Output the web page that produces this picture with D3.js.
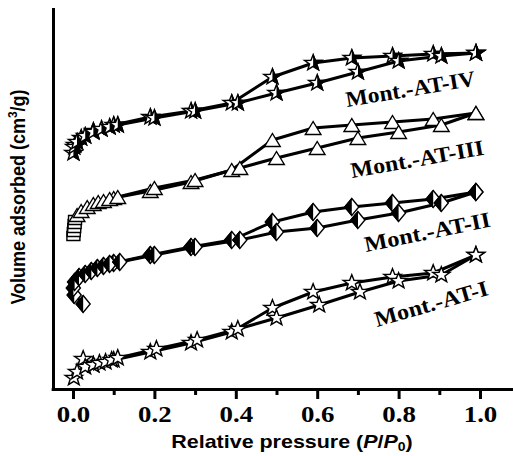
<!DOCTYPE html>
<html>
<head>
<meta charset="utf-8">
<script src="https://cdn.jsdelivr.net/npm/d3@7/dist/d3.min.js"></script>
<style>
  body { margin: 0; background: #fff; }
  svg { display: block; }
</style>
</head>
<body>
<svg></svg>
<script>
const width = 513;
const height = 456;

// x axis ticks (P/P0)
const majorTicks = [0, 0.2, 0.4, 0.6, 0.8, 1.0];
const minorTicks = [0.1, 0.3, 0.5, 0.7, 0.9];

const seriesNames = ['Mont.-AT-I', 'Mont.-AT-II', 'Mont.-AT-III', 'Mont.-AT-IV'];

// [P/P0, volume adsorbed] - curves are stacked with an offset, no y scale shown
const adsI = [[0.002, 11], [0.01, 17], [0.03, 22], [0.05, 24], [0.065, 26], [0.08, 27], [0.095, 29], [0.11, 31],
  [0.205, 40], [0.305, 49], [0.405, 60], [0.5, 71], [0.605, 84], [0.705, 97], [0.8, 108], [0.905, 114], [0.99, 134]];
const desI = [[0.99, 134], [0.885, 116], [0.785, 112], [0.685, 106], [0.59, 97], [0.49, 81], [0.39, 57],
  [0.29, 46], [0.19, 37], [0.1, 29], [0.05, 24], [0.025, 30]];

const adsII = [[0.025, 85], [0.003, 94], [0.001, 101], [0.004, 107], [0.015, 112], [0.03, 115], [0.045, 118],
  [0.06, 121], [0.075, 123], [0.09, 125], [0.115, 127], [0.2, 134], [0.3, 142], [0.41, 149], [0.5, 157],
  [0.6, 161], [0.7, 169], [0.8, 176], [0.905, 186], [0.99, 197]];
const desII = [[0.99, 197], [0.885, 190], [0.785, 186], [0.685, 182], [0.59, 177], [0.49, 167], [0.39, 149],
  [0.29, 142], [0.19, 134], [0.1, 126]];

const lowIII = [[0.001, 153], [0.002, 157], [0.003, 161], [0.004, 165], [0.005, 169]];
const adsIII = [[0.01, 174], [0.02, 178], [0.035, 182], [0.05, 185], [0.062, 187], [0.075, 188], [0.09, 190],
  [0.11, 192], [0.2, 201], [0.3, 209], [0.41, 221], [0.5, 231], [0.6, 241], [0.7, 251], [0.8, 257],
  [0.905, 264], [0.99, 276]];
const desIII = [[0.99, 276], [0.885, 270], [0.785, 267], [0.685, 264], [0.59, 261], [0.49, 249], [0.39, 219],
  [0.29, 207], [0.19, 198], [0.1, 191]];

const adsIV = [[0.001, 236], [0.003, 242], [0.01, 247], [0.03, 253], [0.05, 257], [0.07, 260], [0.09, 262],
  [0.11, 264], [0.2, 271], [0.3, 278], [0.405, 286], [0.5, 296], [0.6, 306], [0.7, 317], [0.8, 328],
  [0.905, 333], [0.99, 336]];
const desIV = [[0.99, 336], [0.885, 335], [0.785, 333], [0.685, 331], [0.59, 326], [0.49, 312], [0.39, 286],
  [0.29, 278], [0.19, 272], [0.1, 264], [0.05, 258], [0.02, 251], [0.005, 244]];

let svg = d3.select('svg').attr('width', width).attr('height', height);

const xScale = d3.scaleLinear()
  .domain([-0.05, 1.081])
  .range([73 - 0.05 * 407, 73 + 1.081 * 407]);

const yScale = d3.scaleLinear()
  .domain([0, 380])
  .range([389, 9]);

const line = d3.line()
  .x(d => xScale(d[0]))
  .y(d => yScale(d[1]));

// marker shapes
const starPath = (ro, ri) => {
  let pts = [];
  for (let i = 0; i < 10; i++) {
    let a = -Math.PI / 2 + i * Math.PI / 5;
    let r = i % 2 ? ri : ro;
    pts.push([(r * Math.cos(a) * 1.1).toFixed(2), (r * Math.sin(a)).toFixed(2)]);
  }
  return 'M' + pts.join('L') + 'Z';
};
const star = starPath(8.3, 3.4);
const triangle = 'M0,-6.5L7.8,6.5L-7.8,6.5Z';
const diamond = 'M0,-8.5L7,0L0,8.5L-7,0Z';
const square = 'M-6.5,-4.5H6.5V4.5H-6.5Z';

const defs = svg.append('defs');
defs.append('clipPath').attr('id', 'rightHalf')
  .append('rect').attr('x', 0).attr('y', -12).attr('width', 12).attr('height', 24);
defs.append('clipPath').attr('id', 'leftHalf')
  .append('rect').attr('x', -12).attr('y', -12).attr('width', 12).attr('height', 24);

const drawLines = (branches) => {
  branches.forEach(b => {
    svg.append('path')
      .attr('d', line(b))
      .attr('fill', 'none')
      .attr('stroke', '#000')
      .attr('stroke-width', 3)
      .attr('stroke-linejoin', 'round');
  });
};

const drawMarkers = (pts, shape, half) => {
  let g = svg.append('g')
    .selectAll('g')
    .data(pts)
    .join('g')
    .attr('transform', d => 'translate(' + xScale(d[0]) + ',' + yScale(d[1]) + ')');

  g.append('path')
    .attr('d', shape)
    .attr('fill', '#fff')
    .attr('stroke', '#000')
    .attr('stroke-width', 1.4)
    .attr('stroke-linejoin', 'miter');

  if (half) {
    g.append('path')
      .attr('d', shape)
      .attr('fill', '#000')
      .attr('stroke', '#000')
      .attr('stroke-width', 1.4)
      .attr('clip-path', 'url(#' + half + ')');
  }
};

// Mont.-AT-I
drawLines([adsI, desI]);
drawMarkers(desI, star, null);
drawMarkers(adsI, star, null);

// Mont.-AT-II
drawLines([adsII, desII]);
drawMarkers(desII, diamond, 'leftHalf');
drawMarkers(adsII, diamond, 'leftHalf');

// Mont.-AT-III
drawLines([lowIII.concat(adsIII), desIII]);
drawMarkers(lowIII, square, null);
drawMarkers(desIII, triangle, null);
drawMarkers(adsIII, triangle, null);

// Mont.-AT-IV
drawLines([adsIV, desIV]);
drawMarkers(desIV, star, 'rightHalf');
drawMarkers(adsIV, star, 'rightHalf');

// axes
const xAxis = svg.append('g')
  .attr('transform', 'translate(0,389)')
  .call(d3.axisBottom(xScale)
    .tickValues(majorTicks)
    .tickSize(10)
    .tickSizeOuter(0)
    .tickFormat(d3.format('.1f')));

xAxis.select('.domain').attr('stroke-width', 3).attr('stroke-linecap', 'square');
xAxis.selectAll('.tick line').attr('stroke-width', 3);
xAxis.selectAll('.tick text')
  .attr('dy', null)
  .attr('y', 33)
  .attr('transform', 'scale(1.12,1)')
  .style('font-family', '"Liberation Serif", "Times New Roman", serif')
  .style('font-weight', 'bold')
  .style('font-size', '24px')
  .attr('fill', '#000');

const xMinor = svg.append('g')
  .attr('transform', 'translate(0,389)')
  .call(d3.axisBottom(xScale)
    .tickValues(minorTicks)
    .tickSize(6)
    .tickSizeOuter(0)
    .tickFormat(''));
xMinor.select('.domain').remove();
xMinor.selectAll('.tick line').attr('stroke-width', 3);

const yAxis = svg.append('g')
  .attr('transform', 'translate(53,0)')
  .call(d3.axisLeft(yScale).tickValues([]).tickSizeOuter(0));
yAxis.select('.domain').attr('stroke-width', 3).attr('stroke-linecap', 'square');

// axis titles
const xTitle = svg.append('text')
  .attr('transform', 'translate(292,448) scale(1.16,1)')
  .attr('text-anchor', 'middle')
  .style('font-family', '"Liberation Sans", Arial, sans-serif')
  .style('font-weight', 'bold')
  .style('font-size', '18.5px');
xTitle.append('tspan').text('Relative pressure (');
xTitle.append('tspan').style('font-style', 'italic').text('P');
xTitle.append('tspan').text('/');
xTitle.append('tspan').style('font-style', 'italic').text('P');
xTitle.append('tspan').attr('dy', 3).style('font-size', '12px').text('0');
xTitle.append('tspan').attr('dy', -3).text(')');

const yTitle = svg.append('text')
  .attr('transform', 'translate(25,197) rotate(-90) scale(1,1.1)')
  .attr('text-anchor', 'middle')
  .style('font-family', '"Liberation Sans", Arial, sans-serif')
  .style('font-weight', 'bold')
  .style('font-size', '18px');
yTitle.append('tspan').text('Volume adsorbed (cm');
yTitle.append('tspan').attr('dy', -7).style('font-size', '12px').text('3');
yTitle.append('tspan').attr('dy', 7).text('/g)');

// series labels
const labelLayout = [
  { x: 377, y: 327, angle: -16, len: 117 },
  { x: 366, y: 252, angle: -11.5, len: 128 },
  { x: 352, y: 178, angle: -10, len: 135 },
  { x: 347, y: 107, angle: -9.5, len: 131 }
];

svg.append('g')
  .selectAll('text')
  .data(seriesNames)
  .join('text')
  .attr('transform', (d, i) => 'translate(' + labelLayout[i].x + ',' + labelLayout[i].y + ') rotate(' + labelLayout[i].angle + ')')
  .attr('textLength', (d, i) => labelLayout[i].len)
  .attr('lengthAdjust', 'spacingAndGlyphs')
  .style('font-family', '"Liberation Serif", "Times New Roman", serif')
  .style('font-weight', 'bold')
  .style('font-size', '22px')
  .text(d => d);
</script>
</body>
</html>
